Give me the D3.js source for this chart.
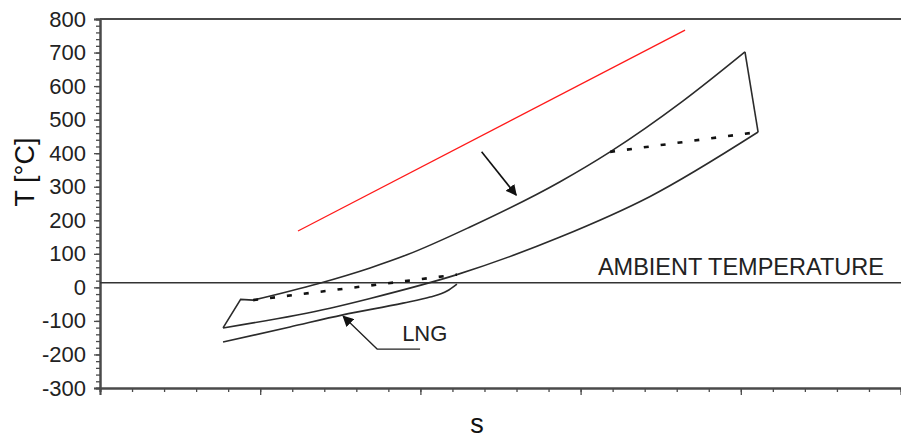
<!DOCTYPE html>
<html>
<head>
<meta charset="utf-8">
<script src="https://cdn.jsdelivr.net/npm/d3@7"></script>
<style>
  body { margin: 0; background: #fff; }
  svg { display: block; font-family: "Liberation Sans", Arial, sans-serif; }
</style>
</head>
<body>
<svg id="chart" width="901" height="443"></svg>
<script>
// T-s diagram values (s has no units)
var yTicks = [-300, -200, -100, 0, 100, 200, 300, 400, 500, 600, 700, 800];
var ambientT = 14;

var cycleLeftS = [3.84, 4.39, 4.78];
var cycleLeftT = [-121, -36, -38];
var upperS = [4.78, 6.80, 8.43, 9.58, 11.55, 14.36, 15.92, 18.20, 20.13];
var upperT = [-38, 11, 58, 97, 180, 315, 404, 556, 702];
var rightS = [20.13, 20.54];
var rightT = [702, 463];
var lowerS = [3.84, 7.18, 8.43, 11.14, 14.36, 17.17, 20.54];
var lowerT = [-121, -62, -33, 38, 150, 271, 463];

var dotLowS = [4.78, 11.14];
var dotLowT = [-38, 38];
var dotHighS = [15.92, 20.54];
var dotHighT = [404, 463];

var lngS = [3.84, 5.93, 7.58, 9.46, 10.30, 10.83, 11.14];
var lngT = [-163, -118, -82, -47, -29, -11, 10];

var redS = [6.18, 18.26];
var redT = [168, 767];

var svg = d3.select("#chart");
var x = d3.scaleLinear().domain([0, 25]).range([100, 901]);
var y = d3.scaleLinear().domain([-300, 800]).range([388, 19]);

function pts(s, t) { return s.map((d, i) => [d, t[i]]) }

var straight = d3.line().x(d => x(d[0])).y(d => y(d[1]));
var smooth = d3.line().x(d => x(d[0])).y(d => y(d[1])).curve(d3.curveMonotoneX);

svg.append("defs").append("marker")
    .attr("id", "head")
    .attr("viewBox", "0 0 10 10")
    .attr("refX", 9).attr("refY", 5)
    .attr("markerWidth", 11).attr("markerHeight", 11)
    .attr("markerUnits", "userSpaceOnUse")
    .attr("orient", "auto")
  .append("path")
    .attr("d", "M0,0 L10,5 L0,10 Z")
    .attr("fill", "#111");

// axes
var axisColor = "#4a4a4a";

var yMinor = svg.append("g")
    .attr("transform", "translate(100,0)")
    .call(d3.axisLeft(y).tickValues(d3.range(-300, 801, 20)).tickSize(4).tickFormat(""));
var yAxis = svg.append("g")
    .attr("transform", "translate(100,0)")
    .call(d3.axisLeft(y).tickValues(yTicks).tickSize(6).tickPadding(8).tickFormat(d => String(d)));
var xMinor = svg.append("g")
    .attr("transform", "translate(0,388)")
    .call(d3.axisBottom(x).tickValues(d3.range(0, 26, 1)).tickSize(4).tickFormat(""));
var xAxis = svg.append("g")
    .attr("transform", "translate(0,388)")
    .call(d3.axisBottom(x).tickValues(d3.range(0, 26, 5)).tickSize(7).tickFormat(""));

[yMinor, yAxis, xMinor, xAxis].forEach(g => {
    g.selectAll("path.domain").attr("stroke", axisColor).attr("stroke-width", 2);
    g.selectAll(".tick line").attr("stroke", axisColor).attr("stroke-width", 1.3);
});
yAxis.selectAll(".tick text")
    .attr("font-size", 22)
    .attr("font-family", "Liberation Sans, Arial, sans-serif")
    .attr("fill", "#222");

// top frame line
svg.append("line")
    .attr("x1", x(0)).attr("x2", x(25))
    .attr("y1", y(800)).attr("y2", y(800))
    .attr("stroke", axisColor).attr("stroke-width", 2);

// ambient temperature
svg.append("line")
    .attr("x1", x(0)).attr("x2", x(25))
    .attr("y1", y(ambientT)).attr("y2", y(ambientT))
    .attr("stroke", "#333").attr("stroke-width", 1.5);
svg.append("text")
    .attr("x", x(15.54)).attr("y", y(37))
    .attr("font-size", 23.5).attr("fill", "#222")
    .text("AMBIENT TEMPERATURE");

// red line
svg.append("path")
    .attr("d", straight(pts(redS, redT)))
    .attr("fill", "none").attr("stroke", "#ff1a1a").attr("stroke-width", 1.3);

// cycle
var lineCol = "#2b2b2b";
svg.append("path").attr("d", straight(pts(cycleLeftS, cycleLeftT)))
    .attr("fill", "none").attr("stroke", lineCol).attr("stroke-width", 1.6);
svg.append("path").attr("d", smooth(pts(upperS, upperT)))
    .attr("fill", "none").attr("stroke", lineCol).attr("stroke-width", 1.6);
svg.append("path").attr("d", straight(pts(rightS, rightT)))
    .attr("fill", "none").attr("stroke", lineCol).attr("stroke-width", 1.6);
svg.append("path").attr("d", smooth(pts(lowerS, lowerT)))
    .attr("fill", "none").attr("stroke", lineCol).attr("stroke-width", 1.6);

// dotted lines
[[dotLowS, dotLowT], [dotHighS, dotHighT]].forEach(p => {
    svg.append("path").attr("d", straight(pts(p[0], p[1])))
        .attr("fill", "none").attr("stroke", "#111")
        .attr("stroke-width", 2.6).attr("stroke-dasharray", "5,12");
});

// LNG curve
svg.append("path").attr("d", smooth(pts(lngS, lngT)))
    .attr("fill", "none").attr("stroke", lineCol).attr("stroke-width", 1.6);

// big arrow
svg.append("line")
    .attr("x1", x(11.91)).attr("y1", y(404))
    .attr("x2", x(12.99)).attr("y2", y(275))
    .attr("stroke", "#111").attr("stroke-width", 1.6)
    .attr("marker-end", "url(#head)");

// LNG label with leader
svg.append("path")
    .attr("d", straight([[9.99, -184], [8.65, -184], [7.59, -86]]))
    .attr("fill", "none").attr("stroke", "#222").attr("stroke-width", 1.3)
    .attr("marker-end", "url(#head)");
svg.append("text")
    .attr("x", x(9.43)).attr("y", y(-160))
    .attr("font-size", 22).attr("fill", "#222")
    .text("LNG");

// axis titles
svg.append("text")
    .attr("transform", "translate(34,172) rotate(-90)")
    .attr("text-anchor", "middle")
    .attr("font-size", 27).attr("fill", "#111")
    .text("T [°C]");
svg.append("text")
    .attr("x", 477).attr("y", 433)
    .attr("text-anchor", "middle")
    .attr("font-size", 27).attr("fill", "#111")
    .text("s");
</script>
</body>
</html>
